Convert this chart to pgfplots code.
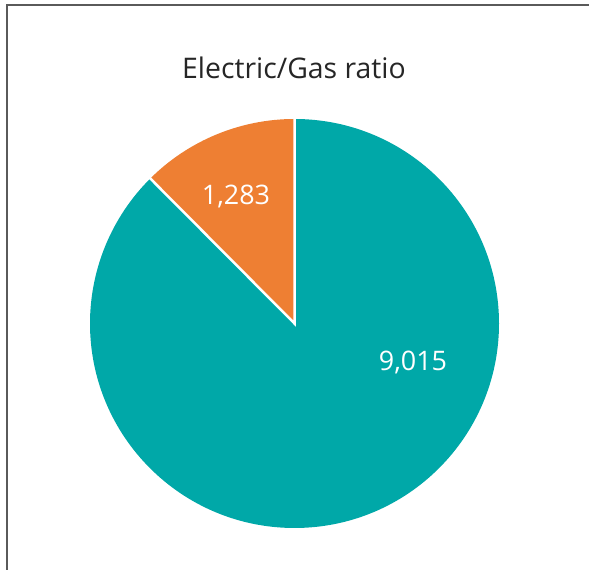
\documentclass[border=0pt]{standalone}
\usepackage{pgfplots}
\pgfplotsset{compat=1.18}
\usepackage{pgfplotstable}
\usepackage{fontspec}
\setmainfont{Open Sans}
\definecolor{teal}{HTML}{00A8A8}
\definecolor{orng}{HTML}{EE7F33}
\definecolor{frm}{HTML}{5A5A5A}
\pgfplotstableread{
name value
Gas 1283
Electric 9015
}\piedata
\begin{document}
\begin{tikzpicture}
\pgfplotstablegetelem{0}{value}\of\piedata \let\vgas\pgfplotsretval
\pgfplotstablegetelem{1}{value}\of\piedata \let\velec\pgfplotsretval
\pgfmathsetmacro{\frac}{\vgas/(\vgas+\velec)}
\pgfmathsetmacro{\aend}{90+360*\frac}
\pgfmathsetmacro{\aendt}{\aend-360}
\begin{axis}[
  scale only axis, width=589bp, height=570bp,
  xmin=0, xmax=589, ymin=0, ymax=570,
  hide axis, clip=true,
]
% frame
\draw[frm, line width=2bp] (axis cs:6.5,-20) -- (axis cs:6.5,564.5) -- (axis cs:620,564.5);
% slices
\fill[teal] (axis cs:294.5,246.5) -- (axis cs:294.5,451) arc[start angle=90, end angle=\aendt, radius=204.5bp] -- cycle;
\fill[orng] (axis cs:294.5,246.5) -- (axis cs:294.5,451) arc[start angle=90, end angle=\aend, radius=204.5bp] -- cycle;
\draw[white, line width=2.5bp] (axis cs:294.5,452) -- (axis cs:294.5,246.5) -- ++(\aend:205.5bp);
\node[font=\fontsize{28.5}{34}\selectfont, text=black!85] at (axis cs:294,502) {Electric/Gas ratio};
\node[font=\fontsize{27}{32}\selectfont, text=white] at (axis cs:236,373) {1,283};
\node[font=\fontsize{27}{32}\selectfont, text=white] at (axis cs:413,208) {9,015};
\end{axis}
\pgfresetboundingbox
\useasboundingbox (current axis.south west) rectangle (current axis.north east);
\end{tikzpicture}
\end{document}
